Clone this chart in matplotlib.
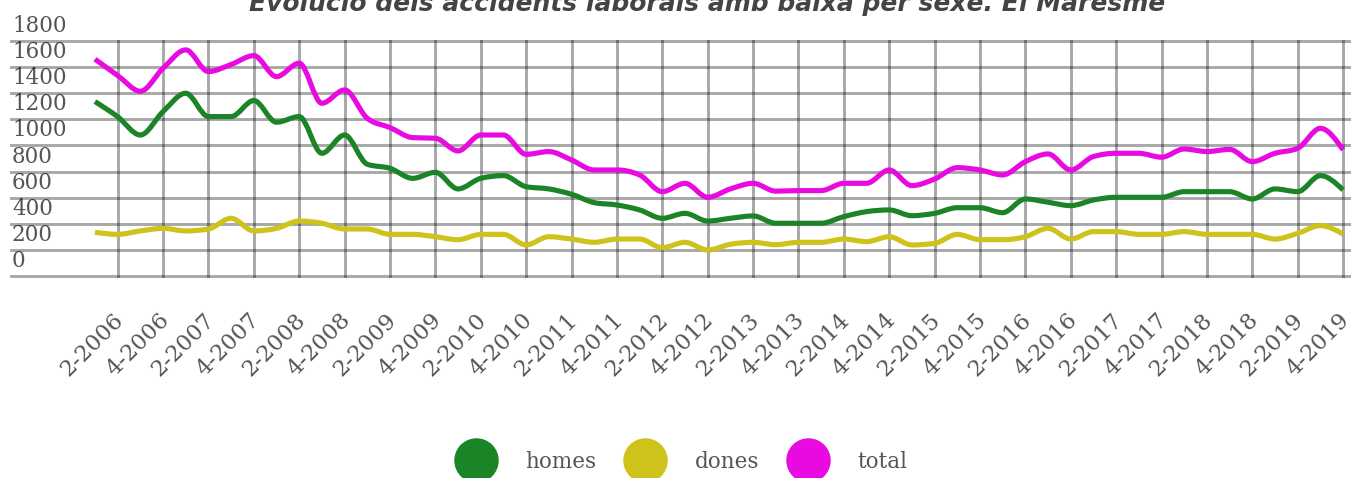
import numpy as np
import matplotlib.pyplot as plt
from matplotlib.path import Path
from matplotlib.patches import PathPatch
from matplotlib.lines import Line2D
from matplotlib.transforms import ScaledTranslation

plt.rcParams['font.family'] = ['DejaVu Serif']

# quarterly data, 1-2006 .. 4-2019
quarters = [f"{q}-{y}" for y in range(2006, 2020) for q in range(1, 5)]
homes = [1336, 1220, 1080, 1259, 1400, 1221, 1221, 1344, 1178, 1221,
         940, 1080, 856, 825, 748, 794, 667, 748, 769, 684,
         667, 626, 562, 544, 506, 442, 480, 421, 442, 460,
         404, 404, 404, 455, 493, 506, 462, 480, 523, 523,
         485, 590, 565, 539, 582, 603, 603, 603, 646, 646,
         646, 590, 667, 646, 769, 659]
dones = [335, 319, 345, 365, 345, 360, 442, 345, 365, 421,
         404, 360, 360, 319, 319, 301, 278, 319, 319, 238,
         301, 283, 258, 283, 283, 217, 258, 199, 243, 258,
         240, 258, 258, 283, 263, 301, 238, 250, 319, 278,
         278, 301, 365, 283, 340, 340, 319, 319, 340, 319,
         319, 319, 283, 327, 386, 321]
total = [1661, 1536, 1415, 1591, 1732, 1566, 1620, 1688, 1527, 1630,
         1323, 1425, 1208, 1137, 1060, 1055, 958, 1080, 1080, 932,
         953, 889, 812, 812, 774, 646, 710, 603, 667, 710,
         650, 654, 654, 710, 710, 812, 692, 743, 830, 812,
         774, 876, 935, 812, 915, 940, 940, 910, 973, 953,
         970, 876, 940, 978, 1131, 966]
names = ['homes', 'dones', 'total']
colors = ['#1a8426', '#cfc21a', '#e80ae0']
yticks = list(range(0, 1801, 200))
title = 'Evolució dels accidents laborals amb baixa per sexe. El Maresme'


def monotone_path(x, y):
    # smooth curve like d3 curveMonotoneX
    x = np.asarray(x, float)
    y = np.asarray(y, float)
    h = np.diff(x)
    s = np.diff(y) / h
    t = np.zeros_like(y)
    for i in range(1, len(y) - 1):
        p = (s[i-1] * h[i] + s[i] * h[i-1]) / (h[i-1] + h[i])
        t[i] = (np.sign(s[i-1]) + np.sign(s[i])) * min(abs(s[i-1]), abs(s[i]), 0.5 * abs(p))
    t[0] = (3 * s[0] - t[1]) / 2
    t[-1] = (3 * s[-1] - t[-2]) / 2
    verts = [(x[0], y[0])]
    codes = [Path.MOVETO]
    for i in range(len(x) - 1):
        d = h[i] / 3
        verts += [(x[i] + d, y[i] + d * t[i]), (x[i+1] - d, y[i+1] - d * t[i+1]), (x[i+1], y[i+1])]
        codes += [Path.CURVE4] * 3
    return Path(verts, codes)


fig = plt.figure(figsize=(13.51, 4.78), dpi=100)
ax = fig.add_axes([11 / 1351, 1 - 276 / 478, 1340 / 1351, 235 / 478])

x = np.arange(len(quarters))
for vals, c in zip([homes, dones, total], colors):
    ax.add_patch(PathPatch(monotone_path(x, vals), fill=False, edgecolor=c,
                           lw=3.7, joinstyle='round', capstyle='butt', zorder=3))

ax.set_xlim(-3.70, 55.35)
ax.set_ylim(0, 1800)
ax.set_xticks(x[1::2])
ax.set_xticklabels(quarters[1::2])
ax.set_yticks(yticks)
ax.tick_params(length=0, pad=0, labelsize=15.5, labelcolor='#555555')
ax.tick_params(axis='x', labelsize=16.2)
ax.grid(True, color='black', alpha=0.34, lw=2.1)
ax.set_axisbelow(True)
for sp in ax.spines.values():
    sp.set_visible(False)
for g in ax.get_ygridlines() + ax.get_xgridlines():
    g.set_clip_on(False)

for lbl in ax.get_yticklabels():
    lbl.set_ha('left')
    lbl.set_va('baseline')
    lbl.set_transform(lbl.get_transform() + ScaledTranslation(0.01, 0.09, fig.dpi_scale_trans))
for lbl in ax.get_xticklabels():
    lbl.set_rotation(45)
    lbl.set_rotation_mode('anchor')
    lbl.set_ha('right')
    lbl.set_va('top')
    lbl.set_transform(lbl.get_transform() + ScaledTranslation(-0.05, -0.33, fig.dpi_scale_trans))

fig.text(0.5235, 1 - 11 / 478, title, ha='center', va='baseline', fontsize=18,
         fontweight='bold', fontstyle='italic', family='DejaVu Sans', color='#444444')

handles = [Line2D([], [], ls='none', marker='o', ms=31, mfc=c, mec=c) for c in colors]
fig.legend(handles, names, loc='center', bbox_to_anchor=(0.504, 0.0335), ncol=3,
           frameon=False, fontsize=15.5, handlelength=2, handletextpad=1.28,
           columnspacing=1.28, labelcolor='#555555', borderpad=0)

fig.savefig('out.png', dpi=100)
